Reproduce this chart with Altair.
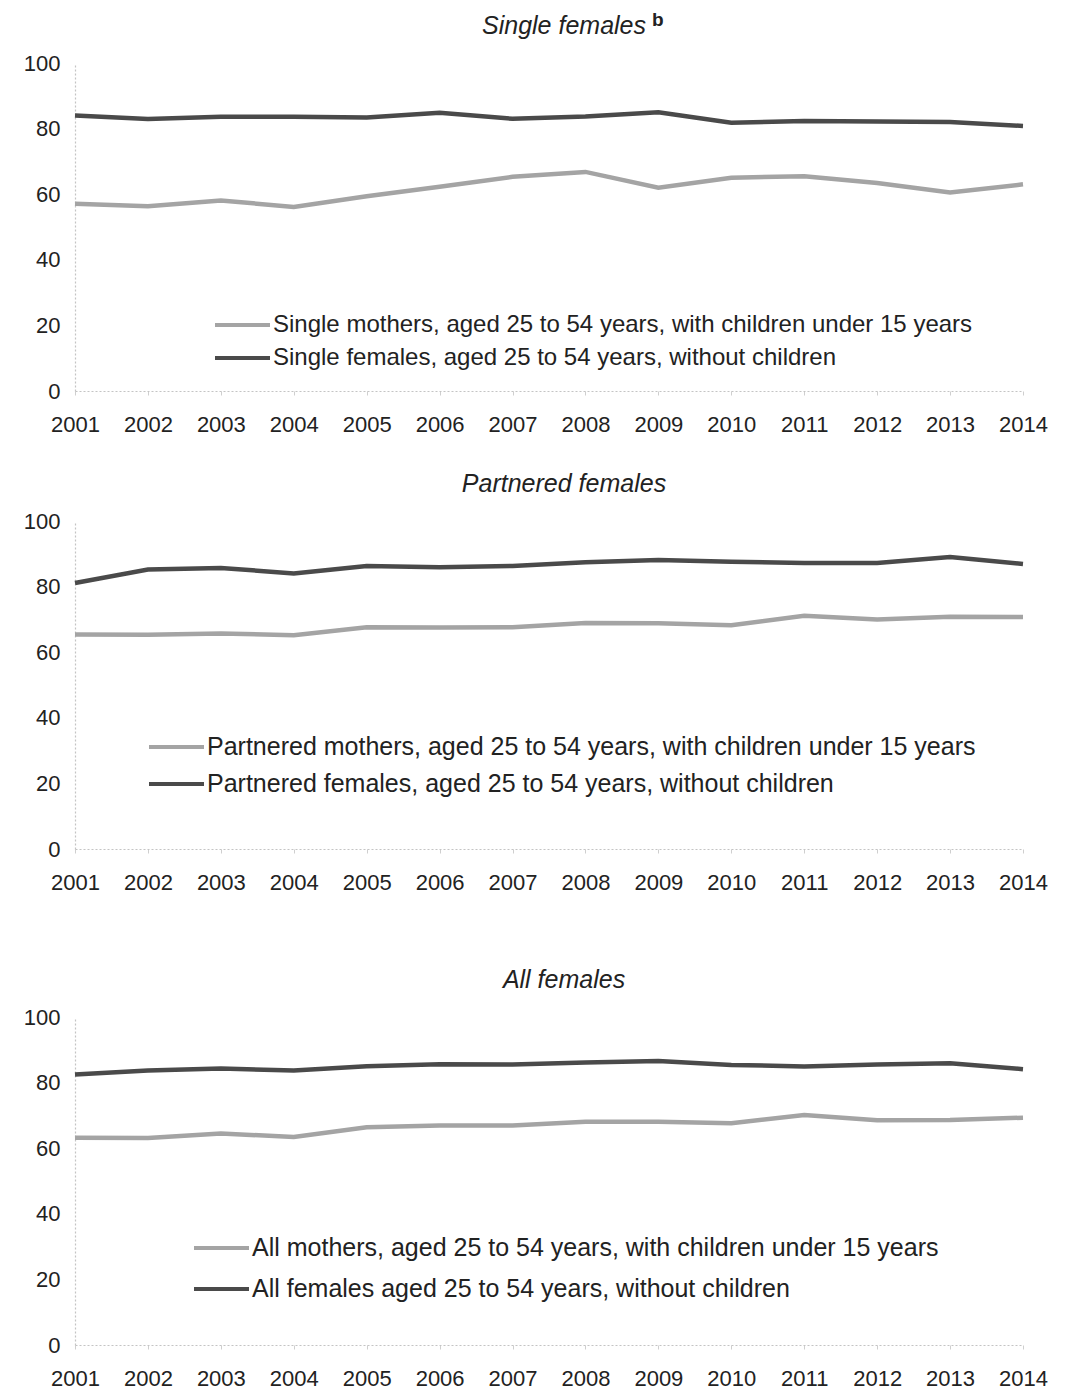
import altair as alt
import pandas as pd

years = list(range(2001, 2015))

# Single females panel
single_mothers = [57.1, 56.3, 58.1, 56.1, 59.4, 62.3, 65.3, 66.8, 62.0, 65.0, 65.5, 63.4, 60.5, 63.0]
single_nochild = [84.0, 82.9, 83.6, 83.6, 83.4, 84.8, 83.0, 83.7, 85.0, 81.8, 82.3, 82.2, 82.0, 80.8]
# Partnered females panel
partnered_mothers = [65.4, 65.3, 65.7, 65.2, 67.6, 67.5, 67.6, 68.9, 68.8, 68.2, 71.1, 70.0, 70.8, 70.7]
partnered_nochild = [81.1, 85.2, 85.7, 84.0, 86.3, 85.9, 86.3, 87.4, 88.1, 87.6, 87.2, 87.2, 89.0, 86.9]
# All females panel
all_mothers = [63.2, 63.1, 64.5, 63.4, 66.4, 66.9, 66.9, 68.1, 68.1, 67.6, 70.1, 68.5, 68.6, 69.3]
all_nochild = [82.5, 83.7, 84.3, 83.7, 85.0, 85.6, 85.5, 86.1, 86.6, 85.4, 84.9, 85.5, 85.9, 84.1]

titles = ["Single females", "Partnered females", "All females"]
superscripts = ["b"]
single_labels = ["Single mothers, aged 25 to 54 years,  with children under 15 years",
                 "Single females, aged 25 to 54 years, without children"]
partnered_labels = ["Partnered mothers, aged 25 to 54 years,  with children under 15 years",
                    "Partnered females, aged 25 to 54 years, without children"]
all_labels = ["All mothers, aged 25 to 54 years, with children under 15 years",
              "All females aged 25 to 54 years, without children"]
y_ticks = [0, 20, 40, 60, 80, 100]

LIGHT = "#a4a4a4"
DARK = "#4a4a4a"
FONT = "Liberation Sans"
TXT = "#222222"
W, H = 948, 328


def make_panel(title, labels, mothers, nochild, lx, ly, rowpad, lfont, sup=None):
    df = pd.DataFrame({
        "Year": years + years,
        "Rate": mothers + nochild,
        "Series": [labels[0]] * len(years) + [labels[1]] * len(years),
    })
    lines = alt.Chart(df).mark_line(strokeWidth=4.5).encode(
        x=alt.X("Year:Q",
                scale=alt.Scale(domain=[2001, 2014], nice=False, zero=False),
                axis=alt.Axis(title=None, values=years, format="d", labelFlush=False,
                              labelOverlap=False, labelFontSize=22, labelFont=FONT,
                              labelColor=TXT, labelPadding=19, ticks=True, tickSize=4,
                              tickColor="#cfcfcf", domainColor="#c4c4c4",
                              domainDash=[2, 2], domainWidth=1.2, grid=False)),
        y=alt.Y("Rate:Q",
                scale=alt.Scale(domain=[0, 100], nice=False),
                axis=alt.Axis(title=None, values=y_ticks, labelFontSize=22, labelFont=FONT,
                              labelColor=TXT, labelPadding=15, ticks=False,
                              domainColor="#c4c4c4", domainDash=[2, 2], domainWidth=1.2,
                              grid=False)),
        color=alt.Color("Series:N",
                        scale=alt.Scale(domain=labels, range=[LIGHT, DARK]),
                        legend=alt.Legend(title=None, orient="none", legendX=lx, legendY=ly,
                                          symbolType="stroke", symbolSize=3025,
                                          symbolStrokeWidth=4, labelFontSize=lfont,
                                          labelFont=FONT, labelColor=TXT, labelLimit=1200,
                                          clipHeight=24, rowPadding=rowpad, labelOffset=1,
                                          padding=0)),
    )
    layers = [lines]
    offset = 13
    if sup:
        sdf = pd.DataFrame({"t": [sup]})
        layers.append(
            alt.Chart(sdf).mark_text(font=FONT, fontSize=19, fontWeight="bold", color=TXT,
                                     align="left", baseline="top").encode(
                text="t:N", x=alt.value(577), y=alt.value(-52))
        )
        offset = -28
    return alt.layer(*layers).properties(
        width=W, height=H,
        title=alt.TitleParams(text=title, fontStyle="italic", fontWeight="normal",
                              fontSize=25, font=FONT, color=TXT, offset=offset, dx=15,
                              anchor="middle"),
    )


p1 = make_panel(titles[0], single_labels, single_mothers, single_nochild, 138, 250, 9, 24,
                sup=superscripts[0])
p2 = make_panel(titles[1], partnered_labels, partnered_mothers, partnered_nochild,
                72, 214, 12, 25)
p3 = make_panel(titles[2], all_labels, all_mothers, all_nochild, 117, 219, 16, 25)

top = alt.vconcat(p1, p2, spacing=37).resolve_scale(color="independent")
chart = alt.vconcat(top, p3, spacing=75).resolve_scale(color="independent").properties(
    padding={"left": 15, "top": 3, "right": 5, "bottom": 0},
    background="white",
).configure_view(stroke=None)

chart.save("out.html", embed_options={"renderer": "svg", "actions": False})
